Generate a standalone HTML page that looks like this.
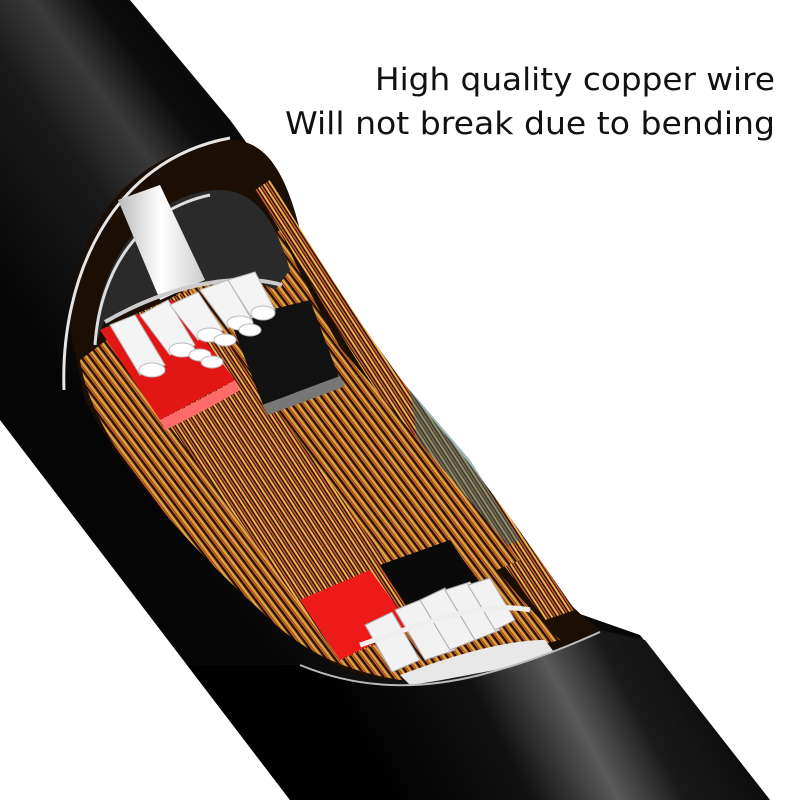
<!DOCTYPE html>
<html><head><meta charset="utf-8"><style>
html,body{margin:0;padding:0;background:#fff}
svg{display:block}
</style></head><body>
<svg width="800" height="800" viewBox="0 0 800 800" xmlns="http://www.w3.org/2000/svg">
<defs>
<linearGradient id="cab" gradientUnits="userSpaceOnUse" x1="0" y1="300" x2="330" y2="60">
<stop offset="0" stop-color="#050505"/><stop offset="0.35" stop-color="#1a1a1a"/><stop offset="0.5" stop-color="#3a3a3a"/><stop offset="0.62" stop-color="#0c0c0c"/><stop offset="1" stop-color="#000"/>
</linearGradient>
<linearGradient id="cab2" gradientUnits="userSpaceOnUse" x1="380" y1="800" x2="720" y2="620">
<stop offset="0" stop-color="#000"/><stop offset="0.35" stop-color="#111"/><stop offset="0.55" stop-color="#5a5a5a"/><stop offset="0.7" stop-color="#1a1a1a"/><stop offset="1" stop-color="#050505"/>
</linearGradient>
<pattern id="cu" width="7" height="7" patternUnits="userSpaceOnUse" patternTransform="rotate(-37)">
<rect width="7" height="7" fill="#5a300c"/><rect width="2.5" height="7" fill="#e0a040"/><rect x="3.5" width="1.5" height="7" fill="#1a0c03"/><rect x="5" width="1.5" height="7" fill="#c8602a"/>
</pattern>
<pattern id="cu2" width="6" height="6" patternUnits="userSpaceOnUse" patternTransform="rotate(-33)">
<rect width="6" height="6" fill="#2a1405"/><rect width="2" height="6" fill="#f0b050"/><rect x="3" width="1.5" height="6" fill="#d05a30"/>
</pattern>
<linearGradient id="wh" x1="0" y1="0" x2="1" y2="0"><stop offset="0" stop-color="#bbb"/><stop offset="0.5" stop-color="#fff"/><stop offset="1" stop-color="#ccc"/></linearGradient>
</defs>
<rect width="800" height="800" fill="#fff"/>
<path d="M0,0 L130,0 L230,120 C260,160 285,200 300,260 L340,390 L430,480 L540,600 L640,635 L770,800 L290,800 L0,420 Z" fill="url(#cab)"/>
<path d="M70,330 C70,230 130,150 230,140 C265,140 285,170 300,230 C340,340 420,430 500,520 C530,560 560,600 600,630 C560,655 500,670 430,680 C370,685 330,670 300,640 C200,560 120,470 85,400 Z" fill="#1a0e05"/>
<path d="M80,360 C90,430 160,520 260,610 C300,650 340,670 400,680 L560,640 C520,600 470,540 420,470 C370,400 320,320 280,230 L120,330 Z" fill="url(#cu)"/>
<path d="M270,180 C320,260 380,360 450,440 C500,500 540,560 575,610 L545,620 C500,560 440,480 390,410 C340,340 300,260 255,190 Z" fill="url(#cu2)"/>
<path d="M410,390 L470,460 L520,540 L470,560 L420,460 Z" fill="#3a6a70" opacity="0.5"/>
<path d="M100,330 L190,290 L430,620 L340,660 Z" fill="url(#cu2)"/>
<path d="M100,330 L175,300 L235,380 L160,420 Z" fill="#e31616"/>
<path d="M160,420 C190,405 215,392 235,380 L240,390 C215,405 190,418 165,430 Z" fill="#ff6a6a"/>
<path d="M300,600 L370,570 L410,625 L340,660 Z" fill="#ee1a1a"/>
<path d="M230,320 L300,300 L520,560 L450,590 Z" fill="url(#cu)"/>
<path d="M230,320 L310,300 L340,380 L265,410 Z" fill="#111"/>
<path d="M262,405 C290,395 315,385 340,376 L345,386 C320,396 295,405 268,415 Z" fill="#777"/>
<path d="M380,565 L450,540 L480,585 L410,610 Z" fill="#0a0a0a"/>
<path d="M95,345 C95,260 150,195 215,190 C255,188 275,220 290,270 L275,290 C240,270 170,280 105,320 Z" fill="#2a2a2a"/>
<path d="M95,345 C100,270 140,210 210,195" fill="none" stroke="#ddd" stroke-width="3"/>
<path d="M64,390 C60,280 110,160 230,138" fill="none" stroke="#e6e6e6" stroke-width="3"/>
<path d="M118,200 L160,185 L205,280 L160,300 Z" fill="url(#wh)"/>
<path d="M105,322 C160,290 230,270 282,285" fill="none" stroke="#ccc" stroke-width="4"/>
<g fill="#f4f4f4" stroke="#bbb" stroke-width="1">
<path d="M110,325 L135,315 L165,365 L140,375 Z"/><ellipse cx="152" cy="370" rx="13" ry="7" fill="#fff"/>
<path d="M140,315 L168,300 L195,345 L170,355 Z"/><ellipse cx="182" cy="350" rx="13" ry="7" fill="#fff"/>
<path d="M170,305 L198,292 L223,330 L198,340 Z"/><ellipse cx="210" cy="335" rx="13" ry="7" fill="#fff"/>
<path d="M200,290 L228,280 L252,320 L228,328 Z"/><ellipse cx="240" cy="323" rx="13" ry="7" fill="#fff"/>
<path d="M228,280 L255,272 L275,310 L252,318 Z"/><ellipse cx="263" cy="313" rx="12" ry="7" fill="#fff"/>
<ellipse cx="200" cy="355" rx="11" ry="6" fill="#fff"/><ellipse cx="225" cy="340" rx="11" ry="6" fill="#fff"/>
<ellipse cx="212" cy="362" rx="11" ry="6" fill="#fff"/><ellipse cx="250" cy="330" rx="11" ry="6" fill="#fff"/>
</g>
<g fill="#f2f2f2" stroke="#aaa" stroke-width="1">
<path d="M365,625 L392,612 L420,660 L392,672 Z"/>
<path d="M395,610 L425,598 L455,650 L425,660 Z"/>
<path d="M420,600 L445,588 L475,640 L450,650 Z"/>
<path d="M445,590 L470,582 L500,630 L475,640 Z"/>
<path d="M468,585 L490,578 L515,620 L495,630 Z"/>
</g>
<path d="M400,675 C440,660 500,640 545,640 L560,660 C510,665 450,680 410,685 Z" fill="#e8e8e8"/>
<path d="M360,645 C420,625 480,600 530,610" fill="none" stroke="#eee" stroke-width="5"/>
<path d="M300,665 C360,690 420,690 480,675 C520,665 560,650 600,630 L645,640 L770,800 L290,800 L187,665 Z" fill="url(#cab2)"/>
<path d="M300,665 C360,690 420,690 480,675 C520,665 560,650 600,632" fill="none" stroke="#bbb" stroke-width="2"/>
<g font-family="'DejaVu Sans', 'Liberation Sans', sans-serif" font-size="31" fill="#111" text-anchor="end">
<text x="775" y="90" textLength="400" lengthAdjust="spacingAndGlyphs">High quality copper wire</text>
<text x="775" y="134" textLength="490" lengthAdjust="spacingAndGlyphs">Will not break due to bending</text>
</g>
</svg>
</body></html>
